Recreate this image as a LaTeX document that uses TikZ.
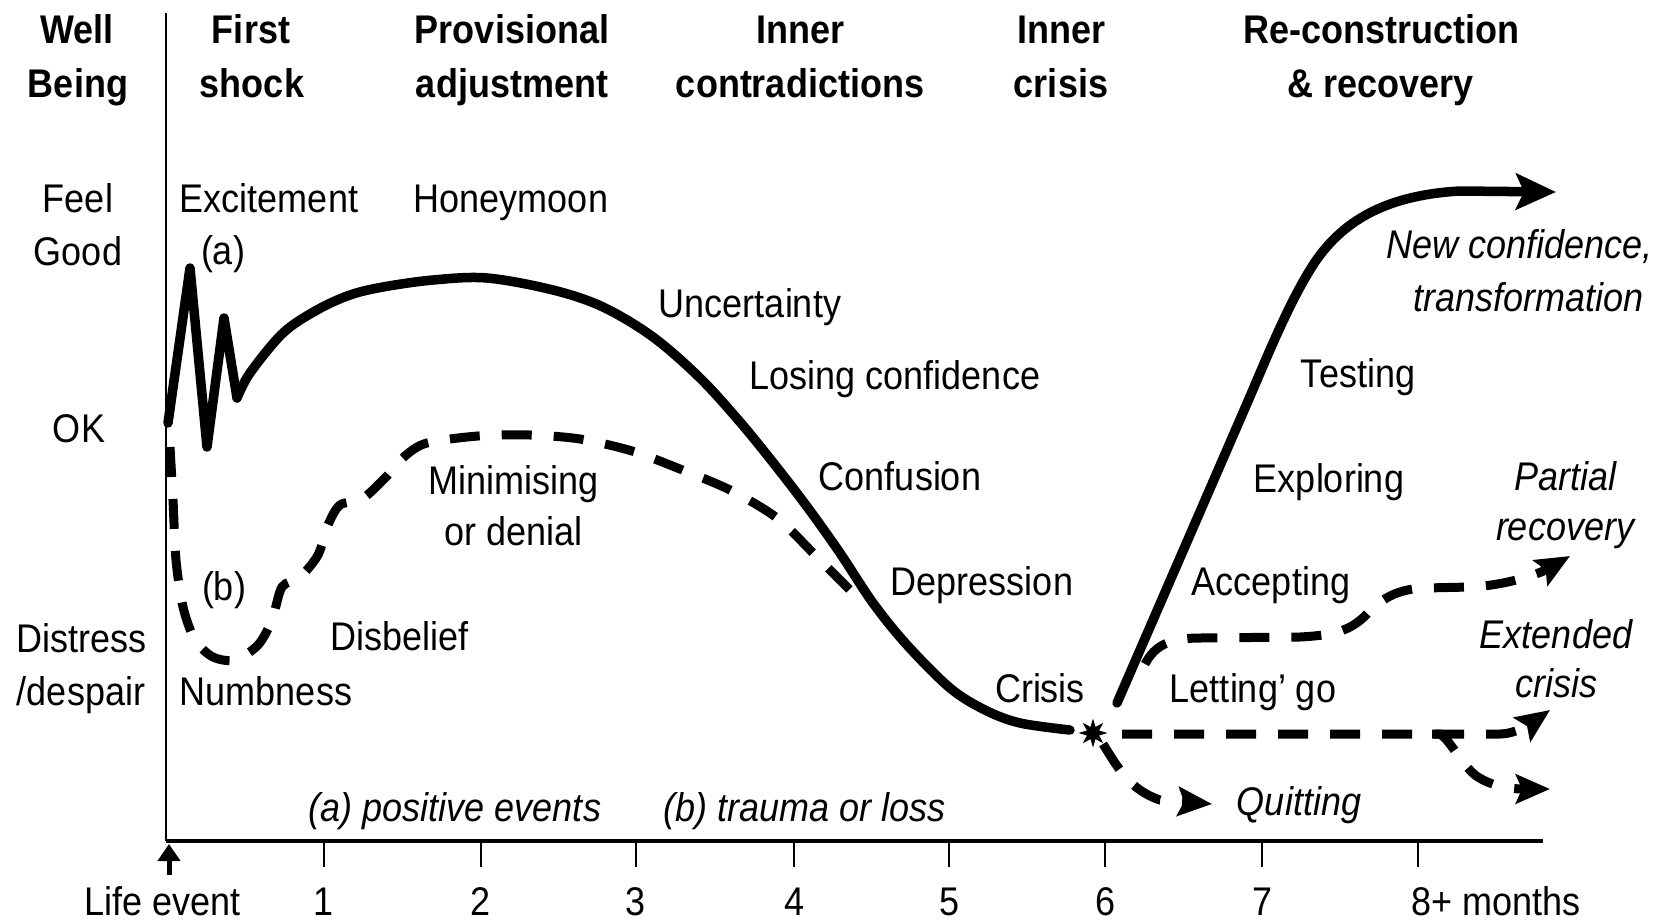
\documentclass[tikz,border=0pt]{standalone}
\usepackage{fontspec}
\setmainfont{Liberation Sans}[FakeStretch=0.9]
\usetikzlibrary{arrows.meta,shapes.geometric}
\begin{document}
\begin{tikzpicture}[x=1pt,y=-1pt,
  lab/.style={font=\fontsize{40}{48}\selectfont, inner sep=0pt, anchor=base},
  hdr/.style={lab, font=\fontsize{40}{48}\selectfont\bfseries},
  itl/.style={lab, font=\fontsize{40}{48}\selectfont\itshape},
  curve/.style={line width=9.5pt, line cap=round, line join=round},
  dashcurve/.style={line width=9pt, dash pattern=on 30pt off 22pt},
  tipbig/.style={-{Stealth[length=40pt,width=36pt,inset=8pt]}},
  tipsmall/.style={-{Stealth[length=34pt,width=29pt,inset=6pt]}},
  tick/.style={line width=2.5pt}
]
\fill[white] (0,0) rectangle (1669,921);
\useasboundingbox (0,0) rectangle (1669,921);

% headers
\node[hdr] (h1a) at (77,43) {Well};
\node[hdr] (h1b) at (78,97) {Being};
\node[hdr] (h2a) at (251,43) {First};
\node[hdr] (h2b) at (252,97) {shock};
\node[hdr] (h3a) at (512,43) {Provisional};
\node[hdr] (h3b) at (512,97) {adjustment};
\node[hdr] (h4a) at (800,43) {Inner};
\node[hdr] (h4b) at (800,97) {contradictions};
\node[hdr] (h5a) at (1061,43) {Inner};
\node[hdr] (h5b) at (1061,97) {crisis};
\node[hdr] (h6a) at (1381,43) {Re-construction};
\node[hdr] (h6b) at (1381,97) {\& recovery};

% left scale
\node[lab] (feel) at (78,212) {Feel};
\node[lab] (good) at (78,265) {Good};
\node[lab] (ok) at (79,442) {OK};
\node[lab] (distress) at (82,652) {Distress};
\node[lab] (despair) at (81,705) {/despair};

% stage labels
\node[lab] (excite) at (269,212) {Excitement};
\node[lab] (la) at (223,264) {(a)};
\node[lab] (honey) at (511,212) {Honeymoon};
\node[lab] (uncert) at (750,317) {Uncertainty};
\node[lab] (losing) at (895,389) {Losing confidence};
\node[lab] (minim) at (514,494) {Minimising};
\node[lab] (denial) at (514,545) {or denial};
\node[lab] (confus) at (900,490) {Confusion};
\node[lab] (depress) at (982,595) {Depression};
\node[lab] (crisis) at (1040,702) {Crisis};
\node[lab] (lb) at (224,600) {(b)};
\node[lab] (disbel) at (400,650) {Disbelief};
\node[lab] (numb) at (266,705) {Numbness};
\node[lab] (testing) at (1358,387) {Testing};
\node[lab] (explor) at (1329,492) {Exploring};
\node[lab] (accept) at (1271,595) {Accepting};
\node[lab] (letgo) at (1253,702) {Letting’ go};

% outcomes (italic)
\node[itl, anchor=base east] (newconf) at (1653,258) {New confidence,};
\node[itl, anchor=base east] (transf) at (1644,311) {transformation};
\node[itl] (partial) at (1565,490) {Partial};
\node[itl] (recov) at (1565,540) {recovery};
\node[itl] (extend) at (1556,648) {Extended};
\node[itl] (excris) at (1556,697) {crisis};
\node[itl] (quit) at (1299,815) {Quitting};
\node[itl] (posev) at (455,821) {(a) positive events};
\node[itl] (trauma) at (805,821) {(b) trauma or loss};

% axes
\coordinate (O) at (166,841);
\coordinate (ytop) at (166,13);
\coordinate (xend) at (1543,841);
\draw[line width=2.5pt] (ytop) -- (O);
\draw[line width=3.5pt] (O) -- (xend);
\foreach \x/\l in {324/1,481/2,636/3,794/4,949/5,1105/6,1262/7}{
  \draw[tick] (\x,841) -- (\x,867);
  \node[lab] (t\l) at (\x,915) {\l};
}
\draw[tick] (1418,841) -- (1418,867);
\node[lab, anchor=base west] (t8) at (1411,915) {8+ months};
\node[lab] (life) at (163,915) {Life event};
\coordinate (evtail) at (169,875);
\coordinate (evtip) at (169,844);
\draw[line width=5pt, -{Triangle[length=17pt,width=22pt]}] (evtail) -- (evtip);

% solid curve (a)
\draw[curve] (168,423) -- (190,268) -- (207,447) -- (224,318) -- (237,398);
\draw[curve] plot[smooth, tension=0.55] coordinates {(237,398) (250,373) (283,333) (317,310) (350,295) (383,287) (433,280) (487,278) (553,290) (603,307) (653,337) (700,378) (740,422) (775,465) (808,508) (840,553) (873,603) (907,645) (950,688) (985,710) (1020,723) (1070,730)};

% dashed curve (b)
\draw[dashcurve] plot[smooth, tension=0.5] coordinates {(170,447) (173,500) (176,560) (183,607) (195,640) (213,657) (235,660) (258,645) (272,620) (282,587) (300,577) (318,555) (328,525) (340,505) (362,499) (385,478) (405,456) (427,443) (478,436) (530,435) (580,439) (632,451) (680,469) (730,490) (777,518) (817,557) (862,602)};

% crisis point
\node[star, star points=8, star point ratio=2.2, fill=black, minimum size=29pt, inner sep=0pt] (star) at (1093,733) {};

% recovery
\draw[curve, tipbig] (1117,703) -- (1245,408) .. controls (1270,350) and (1290,300) .. (1315,262) .. controls (1345,218) and (1390,195) .. (1460,191) -- (1556,192);

% partial recovery
\draw[dashcurve, tipsmall] (1145,664) .. controls (1155,645) and (1170,638) .. (1200,638) -- (1300,637) .. controls (1340,635) and (1352,628) .. (1365,616) .. controls (1380,600) and (1395,589) .. (1425,588) -- (1470,587) .. controls (1500,586) and (1535,576) .. (1570,556);

% extended crisis
\draw[dashcurve, tipsmall] (1122,734) -- (1500,734) .. controls (1515,734) and (1530,724) .. (1550,710);
\draw[dashcurve, tipsmall] (1432,734) -- (1440,734) .. controls (1450,740) and (1460,762) .. (1475,775) .. controls (1490,786) and (1510,789) .. (1550,789);

% quitting
\draw[dashcurve, tipsmall] (1103,744) .. controls (1118,768) and (1130,790) .. (1160,800) -- (1212,804);
\end{tikzpicture}
\end{document}
